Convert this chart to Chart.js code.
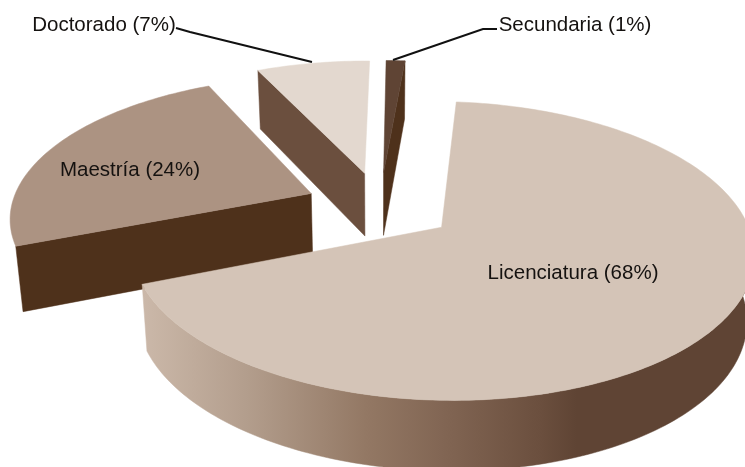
<!DOCTYPE html>
<html lang="es">
<head>
<meta charset="utf-8">
<title>Nivel de estudios</title>
<script src="https://cdn.jsdelivr.net/npm/chart.js@4"></script>
<style>
    html, body { margin: 0; padding: 0; background: #fff; }
    canvas { display: block; filter: blur(0.4px); }
</style>
</head>
<body>
<canvas id="grafica-estudios" width="745" height="467"></canvas>
<script>
const categorias = ["Licenciatura", "Maestría", "Doctorado", "Secundaria"];
// la etiqueta los redondea
const porcentajes = [67.6, 24, 7.2, 1.2];

const coloresCara = ["#d4c4b7", "#ac9382", "#e3d8cf", "#5f4434"];
const coloresLado = ["#5f4434", "#4e311b", "#6b4f3e", "#4e311b"];
const caraRadial = [null, "inicio", "inicio", "fin"];
const ordenDibujo = [2, 3, 1, 0];

// vista en perspectiva del pastel
const vista = { cx: 380, cy: 206, rx: 300, ry: 139, p: 0.155, grosor: 64, separacion: 0.25 };
const etiquetas = [
    { x: 573, y: 273 },
    { x: 130, y: 170 },
    { x: 104, y: 25 },
    { x: 575, y: 25 }
];
const guias = [
    null,
    null,
    [[176, 28], [190, 32], [312, 62]],
    [[497, 29], [483, 29], [393, 60]]
];

const proyectar = (x, y, z) => {
    const w = 1 / (1 - vista.p * y);
    const wz = 1 / (1 - 0.08 * y);
    return [vista.cx + vista.rx * x * w * (1 - 0.02 * z), vista.cy + vista.ry * y * w + vista.grosor * z * wz];
};

const trazar = (ctx, puntos, color) => {
    ctx.beginPath();
    puntos.forEach((pt, i) => {
        if (i == 0) {
            ctx.moveTo(pt[0], pt[1]);
        } else {
            ctx.lineTo(pt[0], pt[1]);
        }
    });
    ctx.closePath();
    ctx.fillStyle = color;
    ctx.strokeStyle = color;
    ctx.lineWidth = 0.5;
    ctx.fill();
    ctx.stroke();
};

const dibujarPorcion = (ctx, arco, i) => {
    const inicio = arco.startAngle;
    const fin = arco.endAngle;
    const medio = (inicio + fin) / 2;
    const ox = Math.cos(medio) * vista.separacion;
    const oy = Math.sin(medio) * vista.separacion;

    const borde = [];
    const frente = [];
    const pasos = Math.max(4, Math.ceil((fin - inicio) / 0.02));
    for (let k = 0; k <= pasos; k++) {
        const a = inicio + (fin - inicio) * k / pasos;
        const pt = [ox + Math.cos(a), oy + Math.sin(a)];
        borde.push(pt);
        if (Math.sin(a) >= 0) {
            frente.push(pt);
        }
    }

    // cara radial visible
    if (caraRadial[i]) {
        const pt = caraRadial[i] == "inicio" ? borde[0] : borde[borde.length - 1];
        trazar(ctx, [proyectar(ox, oy, 0), proyectar(pt[0], pt[1], 0), proyectar(pt[0], pt[1], 1), proyectar(ox, oy, 1)], coloresLado[i]);
    }

    // lado curvo, solo en la porcion de enfrente
    if (i == 0) {
        const relleno = ctx.createLinearGradient(143, 0, 745, 0);
        relleno.addColorStop(0, "#cbb8a9");
        relleno.addColorStop(0.17, "#b39e8d");
        relleno.addColorStop(0.37, "#937864");
        relleno.addColorStop(0.51, "#806452");
        relleno.addColorStop(0.66, "#6b4f3e");
        relleno.addColorStop(0.72, "#5f4434");
        relleno.addColorStop(1, "#5f4434");
        const arriba = frente.map((b) => proyectar(b[0], b[1], 0));
        const abajo = frente.map((b) => proyectar(b[0], b[1], 1)).reverse();
        trazar(ctx, arriba.concat(abajo), relleno);
    }

    // cara superior
    trazar(ctx, [proyectar(ox, oy, 0)].concat(borde.map((b) => proyectar(b[0], b[1], 0))), coloresCara[i]);
};

const pastel3d = {
    id: "pastel3d",
    beforeDatasetDraw(chart, args) {
        const ctx = chart.ctx;
        const arcos = args.meta.data;
        ctx.save();
        ordenDibujo.forEach((i) => dibujarPorcion(ctx, arcos[i], i));
        ctx.restore();
        return false;
    },
    afterDatasetsDraw(chart) {
        const ctx = chart.ctx;
        ctx.save();
        ctx.strokeStyle = "#111";
        ctx.lineWidth = 2;
        guias.forEach((guia) => {
            if (guia) {
                ctx.beginPath();
                guia.forEach((pt, k) => (k == 0 ? ctx.moveTo(pt[0], pt[1]) : ctx.lineTo(pt[0], pt[1])));
                ctx.stroke();
            }
        });
        ctx.fillStyle = "#151210";
        ctx.font = '20.5px "Liberation Sans", Arial, sans-serif';
        ctx.textAlign = "center";
        ctx.textBaseline = "middle";
        categorias.forEach((cat, i) => {
            ctx.fillText(cat + " (" + Math.round(porcentajes[i]) + "%)", etiquetas[i].x, etiquetas[i].y);
        });
        ctx.restore();
    }
};

new Chart(document.getElementById("grafica-estudios").getContext("2d"), {
    type: "pie",
    data: {
        labels: categorias,
        datasets: [{
            data: porcentajes,
            backgroundColor: coloresCara,
            borderWidth: 0
        }]
    },
    options: {
        responsive: false,
        animation: false,
        rotation: 5,
        plugins: {
            legend: { display: false },
            tooltip: { enabled: false }
        }
    },
    plugins: [pastel3d]
});
</script>
</body>
</html>
